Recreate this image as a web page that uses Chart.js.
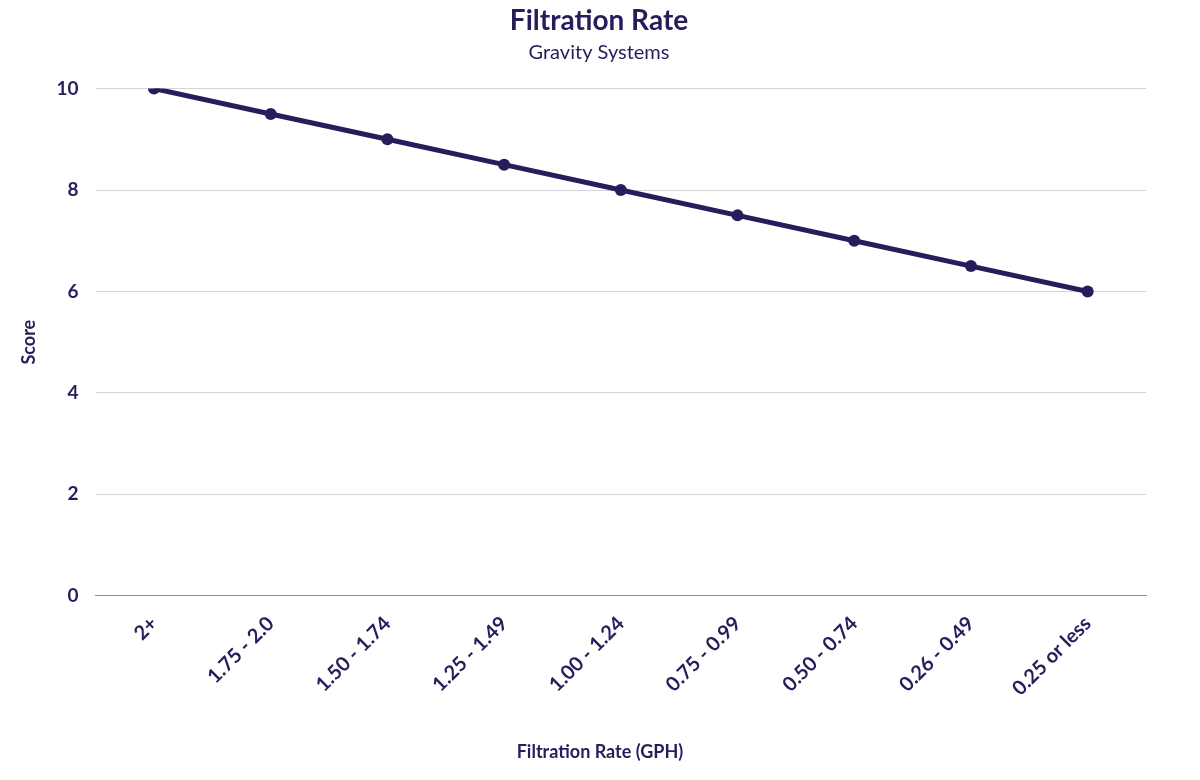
<!DOCTYPE html>
<html>
<head>
<meta charset="utf-8">
<script src="https://cdn.jsdelivr.net/npm/chart.js@4"></script>
<style>
  html, body { margin: 0; padding: 0; background: #fff; }
  #wrap { width: 1200px; height: 780px; }
</style>
</head>
<body>
<div id="wrap"><canvas id="rate-chart" width="1200" height="780"></canvas></div>
<script>
const categories = ['2+', '1.75 - 2.0', '1.50 - 1.74', '1.25 - 1.49', '1.00 - 1.24', '0.75 - 0.99', '0.50 - 0.74', '0.26 - 0.49', '0.25 or less'];
const scores = [10, 9.5, 9, 8.5, 8, 7.5, 7, 6.5, 6];
const xTitle = 'Filtration Rate (GPH)';

const navy = '#241f5b';
Chart.defaults.font.family = 'Lato';
Chart.defaults.color = navy;

const ctx = document.getElementById('rate-chart').getContext('2d');

// x axis title centred on the whole canvas, like the original
const xTitlePlugin = {
  id: 'xTitle',
  afterDraw(chart) {
    const { ctx: c, width, scales: { x } } = chart;
    c.save();
    c.font = 'bold 18px Lato';
    c.fillStyle = navy;
    c.textAlign = 'center';
    c.textBaseline = 'middle';
    c.fillText(xTitle, width / 2, x.bottom - 14);
    c.restore();
  },
};

new Chart(ctx, {
  type: 'line',
  data: {
    labels: categories,
    datasets: [{
      label: 'Score',
      data: scores,
      borderColor: navy,
      backgroundColor: navy,
      borderWidth: 5,
      pointRadius: 6,
      pointBackgroundColor: navy,
      pointBorderWidth: 0,
      tension: 0,
    }],
  },
  options: {
    responsive: false,
    animation: false,
    layout: {
      padding: { left: 4, right: 6, top: 0, bottom: 14 },
    },
    plugins: {
      legend: { display: false },
      tooltip: { enabled: false },
      title: {
        display: true,
        text: 'Filtration Rate',
        font: { size: 28, weight: 'bold' },
        padding: { top: 4, bottom: 3 },
      },
      subtitle: {
        display: true,
        text: 'Gravity Systems',
        font: { size: 20 },
        padding: { top: 0, bottom: 24 },
      },
    },
    scales: {
      x: {
        offset: true,
        grid: { display: false },
        border: { color: '#8d8bb0', width: 1 },
        ticks: {
          maxRotation: 45,
          minRotation: 45,
          font: { size: 20, weight: 'bold' },
          padding: 8,
        },
        title: {
          display: true,
          text: xTitle,
          color: 'rgba(0,0,0,0)',
          font: { size: 18, weight: 'bold' },
          padding: { top: 32 },
        },
      },
      y: {
        min: 0,
        max: 10,
        ticks: {
          stepSize: 2,
          font: { size: 19, weight: 'bold' },
          padding: 17,
        },
        grid: { color: '#d3d2de', drawTicks: false },
        border: { display: false },
        title: {
          display: true,
          text: 'Score',
          font: { size: 18, weight: 'bold' },
          padding: { top: 14, bottom: 0 },
        },
      },
      yRight: {
        position: 'right',
        display: true,
        grid: { display: false, drawTicks: false },
        border: { display: false },
        ticks: { display: false },
        afterFit(scale) {
          scale.width = 48;
        },
      },
    },
  },
  plugins: [xTitlePlugin],
});
</script>
</body>
</html>
